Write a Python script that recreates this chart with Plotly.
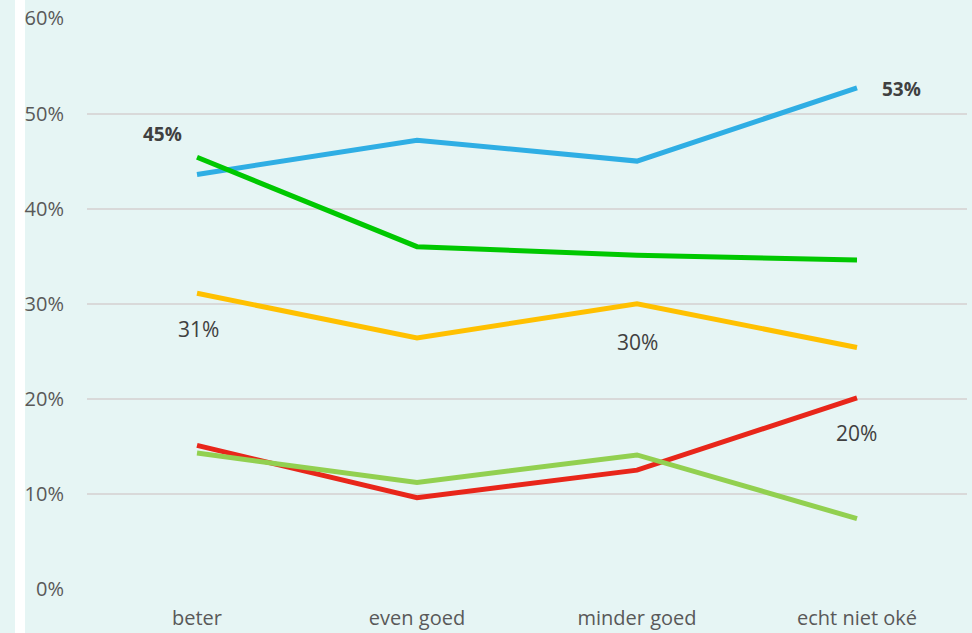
import plotly.graph_objects as go

categories = ["beter", "even goed", "minder goed", "echt niet oké"]
blue = [43.6, 47.2, 45.0, 52.7]
green = [45.4, 36.0, 35.1, 34.6]
yellow = [31.1, 26.4, 30.0, 25.4]
red = [15.1, 9.6, 12.5, 20.1]
lightgreen = [14.3, 11.2, 14.1, 7.4]

series = [
    ("blue", blue, "#2FAEE4"),
    ("green", green, "#00C800"),
    ("yellow", yellow, "#FFC000"),
    ("red", red, "#E8261A"),
    ("lightgreen", lightgreen, "#92D050"),
]

fig = go.Figure()
for name, vals, col in series:
    fig.add_trace(go.Scatter(x=categories, y=vals, mode="lines", name=name,
                             line=dict(color=col, width=5), showlegend=False,
                             hoverinfo="skip"))

font = "Open Sans, Noto Sans, sans-serif"
# data labels: (series values, index, text, bold, xshift, yshift)
labels = [
    (green, 0, "45%", True, -35, 23),
    (blue, 3, "53%", True, 44, -1),
    (yellow, 0, "31%", False, 1, -36),
    (yellow, 2, "30%", False, 0, -38),
    (red, 3, "20%", False, -1, -35),
]
for vals, i, txt, bold, xs, ys in labels:
    fig.add_annotation(x=categories[i], y=vals[i], text=f"<b>{txt}</b>" if bold else txt,
                       showarrow=False, xshift=xs, yshift=ys,
                       font=dict(family=font, size=19 if bold else 21, color="#404040"))

fig.add_shape(type="rect", xref="paper", yref="paper",
              x0=-72/880, x1=-62/880, y0=-50/571, y1=1 + 30/571,
              fillcolor="white", line=dict(width=0), layer="below")

fig.update_layout(
    width=972, height=633,
    margin=dict(l=87, r=5, t=18, b=44, autoexpand=False),
    paper_bgcolor="#E6F5F4", plot_bgcolor="#E6F5F4",
    font=dict(family=font, size=20, color="#595959"),
    xaxis=dict(range=[-0.5, 3.5], showgrid=False, zeroline=False, showline=False,
               automargin=False, ticks="", ticklabelstandoff=15,
               tickfont=dict(size=20, color="#595959")),
    yaxis=dict(range=[0, 60.05], tickvals=[0, 10, 20, 30, 40, 50, 60],
               ticktext=["0%", "10%", "20%", "30%", "40%", "50%", "60%"],
               showgrid=True, gridcolor="#D9D9D9", gridwidth=1.5, automargin=False,
               zeroline=False, showline=False, ticks="", ticklabelstandoff=22,
               tickfont=dict(size=20, color="#595959")),
)

fig.write_html("out.html", config={"displayModeBar": False},
               post_script="document.body.style.margin='0';document.body.style.background='#E6F5F4';")
